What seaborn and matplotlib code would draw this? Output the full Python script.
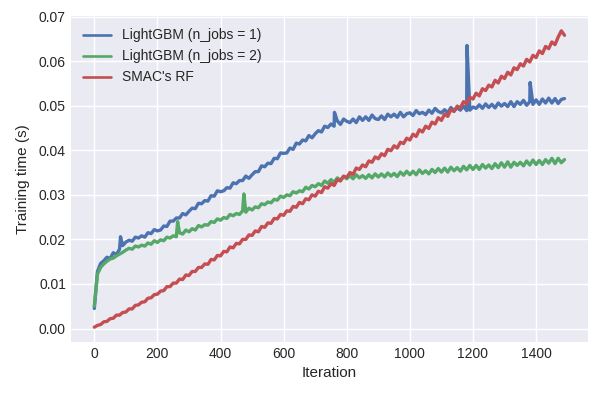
import numpy as np
import pandas as pd
import matplotlib
matplotlib.use("Agg")
import matplotlib.pyplot as plt
import seaborn as sns

iterations = list(range(0, 1500, 10))

labels = ["LightGBM (n_jobs = 1)", "LightGBM (n_jobs = 2)", "SMAC's RF"]

lgbm_1 = [
    0.0045, 0.0128, 0.0146, 0.0152, 0.0160, 0.0157, 0.0170, 0.0166, 0.0178, 0.0186,
    0.0194, 0.0198, 0.0196, 0.0205, 0.0203, 0.0208, 0.0205, 0.0215, 0.0213, 0.0222,
    0.0219, 0.0221, 0.0230, 0.0229, 0.0241, 0.0241, 0.0248, 0.0248, 0.0258, 0.0255,
    0.0263, 0.0270, 0.0269, 0.0281, 0.0280, 0.0287, 0.0286, 0.0298, 0.0297, 0.0309,
    0.0307, 0.0309, 0.0316, 0.0315, 0.0327, 0.0325, 0.0332, 0.0332, 0.0342, 0.0337,
    0.0345, 0.0352, 0.0352, 0.0365, 0.0363, 0.0371, 0.0370, 0.0382, 0.0381, 0.0394,
    0.0393, 0.0394, 0.0405, 0.0402, 0.0416, 0.0414, 0.0423, 0.0421, 0.0433, 0.0428,
    0.0437, 0.0444, 0.0441, 0.0454, 0.0451, 0.0459, 0.0454, 0.0466, 0.0458, 0.0470,
    0.0465, 0.0462, 0.0470, 0.0462, 0.0475, 0.0467, 0.0475, 0.0467, 0.0479, 0.0471,
    0.0469, 0.0477, 0.0469, 0.0481, 0.0475, 0.0481, 0.0474, 0.0485, 0.0475, 0.0482,
    0.0484, 0.0478, 0.0489, 0.0482, 0.0485, 0.0480, 0.0490, 0.0483, 0.0494, 0.0487,
    0.0484, 0.0491, 0.0484, 0.0496, 0.0489, 0.0495, 0.0490, 0.0499, 0.0489, 0.0490,
    0.0497, 0.0494, 0.0502, 0.0494, 0.0504, 0.0496, 0.0503, 0.0495, 0.0506, 0.0499,
    0.0505, 0.0498, 0.0509, 0.0498, 0.0509, 0.0503, 0.0512, 0.0501, 0.0509, 0.0503,
    0.0513, 0.0503, 0.0515, 0.0506, 0.0517, 0.0506, 0.0516, 0.0505, 0.0514, 0.0516,
]
lgbm_1_spike_iters = [83, 761, 1181, 1381]
lgbm_1_spike_vals = [0.0206, 0.0485, 0.0635, 0.0552]

lgbm_2 = [
    0.0050, 0.0122, 0.0137, 0.0145, 0.0151, 0.0156, 0.0158, 0.0163, 0.0167, 0.0171,
    0.0176, 0.0180, 0.0178, 0.0185, 0.0183, 0.0187, 0.0185, 0.0192, 0.0189, 0.0197,
    0.0193, 0.0199, 0.0197, 0.0205, 0.0203, 0.0208, 0.0206, 0.0215, 0.0212, 0.0221,
    0.0217, 0.0224, 0.0221, 0.0231, 0.0228, 0.0233, 0.0232, 0.0240, 0.0238, 0.0246,
    0.0243, 0.0249, 0.0247, 0.0256, 0.0253, 0.0258, 0.0256, 0.0264, 0.0261, 0.0270,
    0.0266, 0.0273, 0.0271, 0.0280, 0.0278, 0.0284, 0.0282, 0.0290, 0.0288, 0.0297,
    0.0294, 0.0300, 0.0298, 0.0307, 0.0304, 0.0309, 0.0307, 0.0317, 0.0313, 0.0321,
    0.0318, 0.0325, 0.0321, 0.0331, 0.0326, 0.0334, 0.0328, 0.0338, 0.0333, 0.0341,
    0.0336, 0.0343, 0.0336, 0.0345, 0.0338, 0.0343, 0.0337, 0.0345, 0.0338, 0.0347,
    0.0340, 0.0347, 0.0340, 0.0349, 0.0342, 0.0348, 0.0341, 0.0351, 0.0344, 0.0353,
    0.0345, 0.0353, 0.0345, 0.0356, 0.0348, 0.0354, 0.0347, 0.0357, 0.0350, 0.0359,
    0.0351, 0.0360, 0.0351, 0.0362, 0.0354, 0.0361, 0.0353, 0.0364, 0.0356, 0.0366,
    0.0357, 0.0366, 0.0357, 0.0368, 0.0360, 0.0367, 0.0359, 0.0370, 0.0361, 0.0372,
    0.0362, 0.0374, 0.0362, 0.0373, 0.0366, 0.0373, 0.0365, 0.0376, 0.0367, 0.0378,
    0.0368, 0.0377, 0.0368, 0.0379, 0.0371, 0.0382, 0.0370, 0.0382, 0.0372, 0.0379,
]
lgbm_2_spike_iters = [264, 474]
lgbm_2_spike_vals = [0.0240, 0.0302]

smac_rf = [
    0.0003, 0.0007, 0.0009, 0.0015, 0.0016, 0.0022, 0.0023, 0.0030, 0.0030, 0.0036,
    0.0037, 0.0044, 0.0044, 0.0052, 0.0053, 0.0059, 0.0060, 0.0068, 0.0069, 0.0076,
    0.0077, 0.0084, 0.0085, 0.0094, 0.0094, 0.0102, 0.0102, 0.0111, 0.0110, 0.0120,
    0.0119, 0.0128, 0.0128, 0.0137, 0.0137, 0.0145, 0.0144, 0.0155, 0.0154, 0.0164,
    0.0163, 0.0173, 0.0172, 0.0183, 0.0181, 0.0191, 0.0190, 0.0200, 0.0200, 0.0210,
    0.0209, 0.0219, 0.0217, 0.0229, 0.0227, 0.0237, 0.0236, 0.0247, 0.0246, 0.0256,
    0.0254, 0.0264, 0.0263, 0.0274, 0.0272, 0.0283, 0.0280, 0.0291, 0.0289, 0.0300,
    0.0297, 0.0308, 0.0305, 0.0318, 0.0315, 0.0325, 0.0321, 0.0334, 0.0331, 0.0342,
    0.0339, 0.0350, 0.0346, 0.0360, 0.0357, 0.0367, 0.0363, 0.0376, 0.0373, 0.0385,
    0.0381, 0.0392, 0.0388, 0.0402, 0.0399, 0.0410, 0.0405, 0.0418, 0.0415, 0.0427,
    0.0423, 0.0436, 0.0431, 0.0446, 0.0441, 0.0454, 0.0449, 0.0463, 0.0459, 0.0473,
    0.0467, 0.0481, 0.0476, 0.0491, 0.0487, 0.0499, 0.0495, 0.0509, 0.0504, 0.0519,
    0.0515, 0.0528, 0.0522, 0.0538, 0.0534, 0.0546, 0.0542, 0.0557, 0.0551, 0.0566,
    0.0561, 0.0575, 0.0569, 0.0585, 0.0581, 0.0594, 0.0589, 0.0604, 0.0598, 0.0613,
    0.0608, 0.0623, 0.0617, 0.0633, 0.0628, 0.0643, 0.0637, 0.0654, 0.0668, 0.0658,
]
smac_rf_spike_iters = []
smac_rf_spike_vals = []

colors = ["#4C72B0", "#55A868", "#C44E52"]

series = [
    (lgbm_1, lgbm_1_spike_iters, lgbm_1_spike_vals),
    (lgbm_2, lgbm_2_spike_iters, lgbm_2_spike_vals),
    (smac_rf, smac_rf_spike_iters, smac_rf_spike_vals),
]

frames = []
for lab, (vals, s_it, s_v) in zip(labels, series):
    d = pd.DataFrame({"Iteration": list(iterations) + list(s_it),
                      "Training time (s)": list(vals) + list(s_v)})
    d = d.sort_values("Iteration")
    d["Model"] = lab
    frames.append(d)
df = pd.concat(frames, ignore_index=True)

sns.set_theme(style="darkgrid", rc={
    "axes.facecolor": "#EAEAF2",
    "grid.color": "white",
    "xtick.major.size": 0,
    "ytick.major.size": 0,
})
plt.rcParams["font.family"] = ["Liberation Sans", "DejaVu Sans"]

fig, ax = plt.subplots(figsize=(6, 4), dpi=100)
sns.lineplot(data=df, x="Iteration", y="Training time (s)", hue="Model",
             palette=colors, linewidth=2.4, ax=ax, estimator=None, sort=False)

ax.set_xlabel("Iteration", fontsize=11, color="#262626")
ax.set_ylabel("Training time (s)", fontsize=11, color="#262626", labelpad=6)
ax.tick_params(labelsize=10, colors="#262626")
ax.set_xticks([0, 200, 400, 600, 800, 1000, 1200, 1400])
ax.yaxis.set_major_formatter(matplotlib.ticker.FormatStrFormatter("%.2f"))
for s in ax.spines.values():
    s.set_visible(False)

handles, labs = ax.get_legend_handles_labels()
leg = ax.legend(handles, labs, loc="upper left", frameon=False, fontsize=10)
for ln in leg.get_lines():
    ln.set_linewidth(1.9)

fig.subplots_adjust(left=0.118, right=0.98, top=0.96, bottom=0.145)
fig.savefig("out.png", dpi=100)
